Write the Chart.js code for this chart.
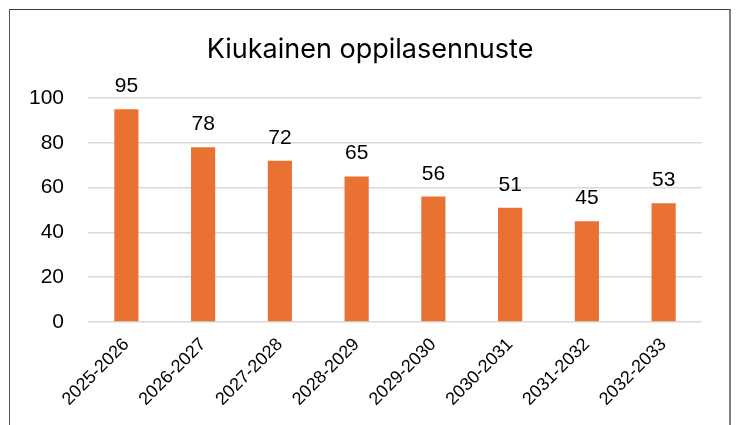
<!DOCTYPE html>
<html>
<head>
<meta charset="utf-8">
<script src="https://cdn.jsdelivr.net/npm/chart.js@4"></script>
<style>
  html, body { margin: 0; padding: 0; background: #fff; }
  #wrap { position: relative; width: 739px; height: 425px; }
  #frame {
    position: absolute; left: 9px; top: 9px; width: 719px; height: 500px;
    border-top: 1px solid #3a3a3a; border-left: 1px solid #555;
    border-right: 2px solid #808080; pointer-events: none;
  }
</style>
</head>
<body>
<div id="wrap">
  <canvas id="chart" width="739" height="425"></canvas>
  <div id="frame"></div>
</div>
<script>
// data
const years = ['2025-2026', '2026-2027', '2027-2028', '2028-2029', '2029-2030', '2030-2031', '2031-2032', '2032-2033'];
const pupils = [95, 78, 72, 65, 56, 51, 45, 53];
const yTicks = [0, 20, 40, 60, 80, 100];
const chartTitle = 'Kiukainen oppilasennuste';

// value labels above bars + title centred on the frame
const barLabels = {
    id: 'barLabels',
    afterDatasetsDraw(chart) {
        const ctx = chart.ctx;
        const meta = chart.getDatasetMeta(0);
        ctx.save();
        ctx.font = '21px "Liberation Sans", Arial, sans-serif';
        ctx.fillStyle = '#000';
        ctx.textAlign = 'center';
        ctx.textBaseline = 'alphabetic';
        meta.data.forEach(function (bar, i) {
            ctx.fillText(pupils[i], bar.x, bar.y - 17);
        });
        ctx.font = '27px Inter, sans-serif';
        ctx.fillText(chartTitle, 370, 58);
        ctx.restore();
    }
};

new Chart(document.getElementById('chart'), {
    type: 'bar',
    data: {
        labels: years,
        datasets: [{
            data: pupils,
            backgroundColor: '#E97132',
            barPercentage: 0.63,
            categoryPercentage: 0.5
        }]
    },
    options: {
        responsive: false,
        animation: false,
        layout: { padding: { left: 0, right: 37, top: 98, bottom: 0 } },
        plugins: {
            legend: { display: false },
            tooltip: { enabled: false },
            title: { display: false }
        },
        scales: {
            x: {
                grid: { display: false },
                border: { display: false },
                ticks: {
                    color: '#000',
                    font: { family: '"Liberation Sans", Arial, sans-serif', size: 18 },
                    minRotation: 45,
                    maxRotation: 45,
                    padding: 4
                },
                afterFit: function (s) { s.height = 103; }
            },
            y: {
                min: 0,
                max: 100,
                afterBuildTicks: function (s) { s.ticks = yTicks.map(v => ({ value: v })); },
                grid: { color: '#d9d9d9', lineWidth: 1.5, drawTicks: false },
                border: { display: false },
                ticks: {
                    color: '#000',
                    font: { family: '"Liberation Sans", Arial, sans-serif', size: 21 },
                    padding: 24
                },
                afterFit: function (s) { s.width = 88; }
            }
        }
    },
    plugins: [barLabels]
});
</script>
</body>
</html>
